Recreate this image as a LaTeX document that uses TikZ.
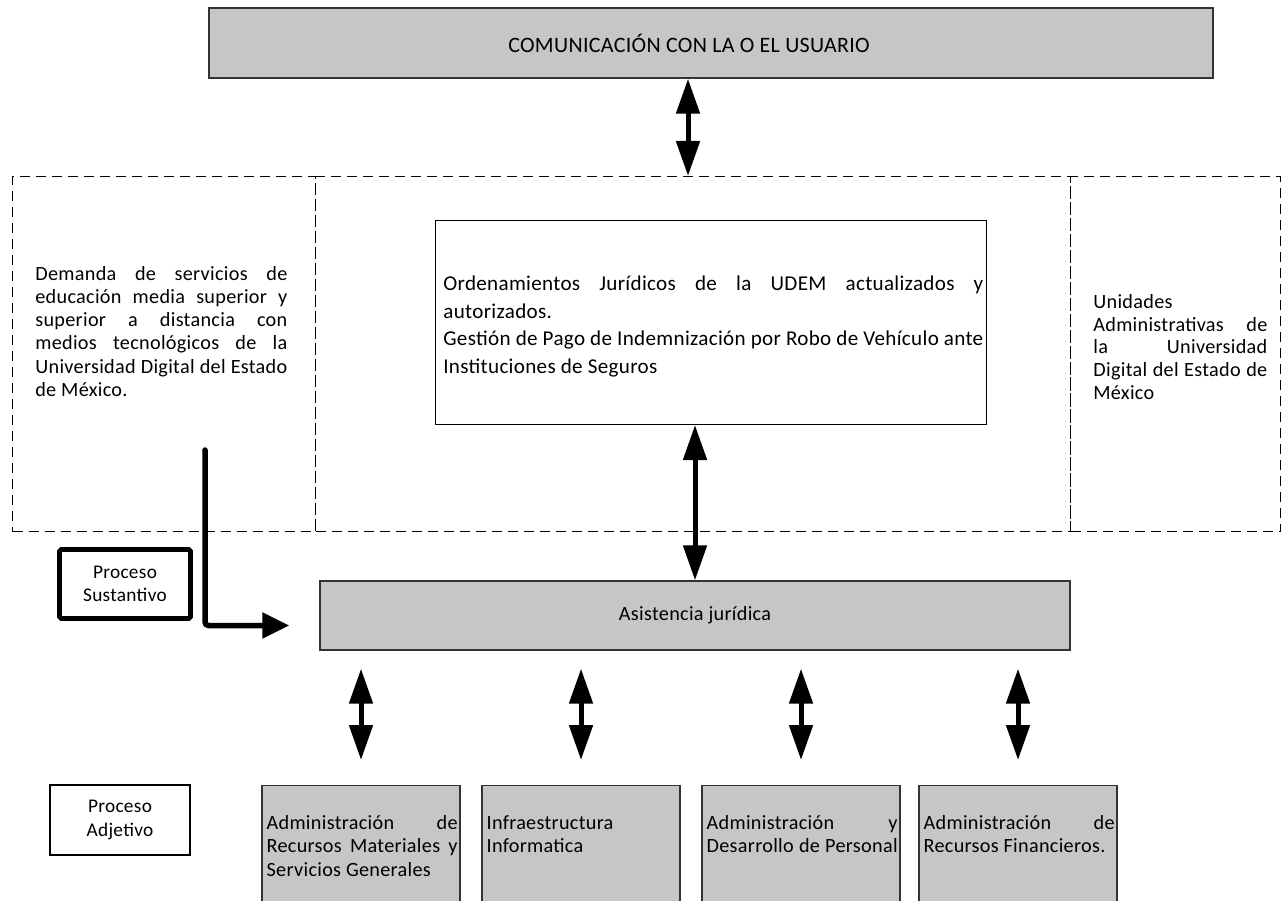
\documentclass[tikz,border=0pt]{standalone}
\usepackage{fontspec}
\setmainfont{Carlito}[LetterSpace=1.5]
\usetikzlibrary{arrows.meta}
\newcommand{\jline}[1]{\makebox[\hsize][s]{\spaceskip=0pt\relax #1}\\}
\hyphenpenalty=10000

\begin{document}
\begin{tikzpicture}[
  every node/.style={font=\fontsize{11.5}{13.2}\selectfont},
  graybox/.style={draw=black!80, line width=0.8pt, fill=gray!45},
  dashbox/.style={draw, line width=0.6pt, dash pattern=on 0.2cm off 0.12cm},
  boxtext/.style={text width=#1, align=justify, inner sep=0pt},
  dblarrow/.style={line width=0.1cm,
    {Triangle[width=0.46cm,length=0.7cm]}-{Triangle[width=0.46cm,length=0.7cm]}},
  ]
  \useasboundingbox (0,0) rectangle (25.66,-18.02);

  \node[graybox, minimum width=20.08cm, minimum height=1.4cm] (usuario) at (14.22,-0.86) {};
  \node[font=\fontsize{12.5}{15}\selectfont] (usuariotxt) at ([xshift=-0.44cm]usuario.center)
    {COMUNICACIÓN CON LA O EL USUARIO};

  \node[dashbox, minimum width=6.06cm, minimum height=7.1cm, anchor=north west] (demanda) at (0.24,-3.52) {};
  \node[dashbox, minimum width=15.1cm, minimum height=7.1cm, anchor=north west] (centro) at (6.3,-3.52) {};
  \node[dashbox, minimum width=4.2cm, minimum height=7.1cm, anchor=north west] (unidades) at (21.4,-3.52) {};

  \node[boxtext=5.04cm, anchor=north west] (demandatxt) at (0.7,-5.32)
    {\jline{Demanda de servicios de}\jline{educación media superior y}\jline{superior a distancia con}%
     \jline{medios tecnológicos de la}\jline{Universidad Digital del Estado}de México.};

  \node[draw, line width=0.6pt, minimum width=11.02cm, minimum height=4.08cm, anchor=north west] (ord) at (8.7,-4.4) {};
  \node[boxtext=10.8cm, anchor=north west, font=\fontsize{12}{15.6}\selectfont] (ordtxt) at (8.86,-5.52)
    {\jline{Ordenamientos Jurídicos de la UDEM actualizados y}autorizados.\\
     \jline{Gestión de Pago de Indemnización por Robo de Vehículo ante}Instituciones de Seguros};

  \node[boxtext=3.48cm, anchor=north west, font=\fontsize{11.5}{12.9}\selectfont] (unidadestxt) at (21.86,-5.88)
    {Unidades\\\jline{Administrativas de}\jline{la Universidad}\jline{Digital del Estado de}México};

  \node[graybox, minimum width=15cm, minimum height=1.38cm] (asist) at (13.9,-12.31) {Asistencia jurídica};

  \draw[dblarrow] ([xshift=-0.46cm]usuario.south) -- ([xshift=-0.46cm]usuario.south |- centro.north);
  \draw[dblarrow] (asist.north) -- (asist.north |- ord.south);

  \node[draw, line width=2.8pt, rounded corners=1pt, minimum width=2.62cm, minimum height=1.38cm,
    align=center, font=\fontsize{11}{13.2}\selectfont] (sustantivo) at (2.5,-11.68) {Proceso\\Sustantivo};
  \coordinate (inicio) at (4.1,-9.0);
  \draw[line width=0.11cm, line cap=round, rounded corners=2pt, -{Triangle[width=0.5cm,length=0.54cm]}]
    (inicio) |- ([xshift=-0.6cm,yshift=-0.2cm]asist.west);

  \node[draw, line width=1.1pt, minimum width=2.8cm, minimum height=1.4cm, align=center,
    font=\fontsize{11}{13.2}\selectfont] (adjetivo) at (2.4,-16.4) {Proceso\\Adjetivo};

  \foreach \name/\x/\txt in {
    rmat/7.22/{\jline{Administración de}\jline{Recursos Materiales y}Servicios Generales},
    infra/11.62/{Infraestructura\\Informatica},
    pers/16.02/{\jline{Administración y}\jline{Desarrollo de Personal}},
    rfin/20.36/{\jline{Administración de}Recursos Financieros.}}
  {
    \node[graybox, minimum width=3.96cm, minimum height=2.5cm, anchor=north] (\name) at (\x,-15.7) {};
    \node[boxtext=3.82cm, anchor=north west, font=\fontsize{11.5}{13.3}\selectfont] (\name-txt)
      at ([xshift=0.1cm,yshift=-0.6cm]\name.north west) {\txt};
    \draw[dblarrow, shorten <=0.36cm, shorten >=0.5cm] (asist.south -| \name.north) -- (\name.north);
  }
\end{tikzpicture}
\end{document}
